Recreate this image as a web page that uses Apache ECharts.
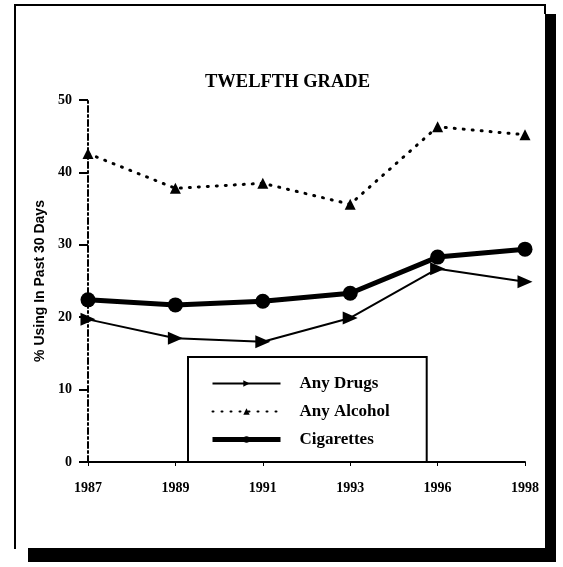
<!DOCTYPE html>
<html>
<head>
<meta charset="utf-8">
<script src="https://cdn.jsdelivr.net/npm/echarts@6/dist/echarts.min.js"></script>
<style>
  html, body { margin: 0; padding: 0; background: #fff; }
  #chart { width: 563px; height: 567px; }
</style>
</head>
<body>
<div id="chart"></div>
<script>
// values (% using in past 30 days, 12th grade)
var years = ['1987', '1989', '1991', '1993', '1996', '1998']
var anyDrugs = [19.7, 17.1, 16.6, 19.9, 26.7, 24.9]
var anyAlcohol = [42.6, 37.8, 38.5, 35.6, 46.3, 45.2]
var cigarettes = [22.4, 21.7, 22.2, 23.3, 28.3, 29.4]

var serif = '"Liberation Serif", "DejaVu Serif", serif'

var chart = echarts.init(document.getElementById('chart'))
chart.setOption({
  backgroundColor: '#fff',
  animation: false,
  title: {
    text: 'TWELFTH GRADE',
    left: 200,
    top: 68,
    textStyle: { fontFamily: serif, fontWeight: 'bold', fontSize: 18.5, color: '#000' }
  },
  legend: {
    orient: 'vertical',
    left: 188,
    top: 357,
    padding: [18, 37, 14, 22],
    borderColor: '#000',
    borderWidth: 2,
    backgroundColor: '#fff',
    itemWidth: 68,
    itemHeight: 8,
    itemGap: 11,
    textStyle: {
      fontFamily: serif,
      fontWeight: 'bold',
      fontSize: 17,
      color: '#000',
      lineHeight: 14,
      padding: [0, 0, 0, 14]
    },
    data: [
      { name: 'Any Drugs' },
      { name: 'Any Alcohol' },
      { name: 'Cigarettes', lineStyle: { width: 5 } }
    ]
  },
  grid: { left: 88, right: 38, top: 100, bottom: 105 },
  xAxis: {
    type: 'category',
    data: years,
    boundaryGap: false,
    axisLine: { lineStyle: { color: '#000', width: 2 } },
    axisTick: { length: 4, lineStyle: { color: '#000' } },
    axisLabel: { margin: 19, fontFamily: serif, fontWeight: 'bold', fontSize: 14, color: '#000' }
  },
  yAxis: {
    type: 'value',
    min: 0,
    max: 50,
    interval: 10,
    name: '% Using In Past 30 Days',
    nameLocation: 'middle',
    nameGap: 40,
    nameTextStyle: {
      fontFamily: '"Liberation Sans Narrow", "Liberation Sans", sans-serif',
      fontWeight: 'bold',
      fontSize: 14,
      color: '#000'
    },
    axisLine: { show: true, lineStyle: { color: '#000', width: 2, type: [6, 3, 2, 3] } },
    axisTick: { show: true, length: 9, lineStyle: { color: '#000', width: 2 } },
    axisLabel: { margin: 16, fontFamily: serif, fontWeight: 'bold', fontSize: 14, color: '#000' },
    splitLine: { show: false }
  },
  series: [
    {
      name: 'Any Drugs',
      type: 'line',
      data: anyDrugs,
      symbol: 'triangle',
      symbolSize: [13, 15],
      symbolRotate: -90,
      itemStyle: { color: '#000' },
      lineStyle: { color: '#000', width: 2 },
      z: 3
    },
    {
      name: 'Any Alcohol',
      type: 'line',
      data: anyAlcohol,
      symbol: 'triangle',
      symbolSize: 11,
      itemStyle: { color: '#000' },
      lineStyle: { color: '#000', width: 3, type: [1, 8], cap: 'round' },
      z: 3
    },
    {
      name: 'Cigarettes',
      type: 'line',
      data: cigarettes,
      symbol: 'circle',
      symbolSize: 15,
      itemStyle: { color: '#000' },
      lineStyle: { color: '#000', width: 5 },
      z: 4
    }
  ],
  graphic: [
    // page frame with its dark shadow edges
    { type: 'polyline', shape: { points: [[15, 549], [15, 5], [545, 5], [545, 14]] }, style: { stroke: '#000', lineWidth: 2, fill: null } },
    { type: 'rect', shape: { x: 545, y: 14, width: 11, height: 548 }, style: { fill: '#000' } },
    { type: 'rect', shape: { x: 28, y: 548, width: 528, height: 14 }, style: { fill: '#000' } }
  ]
})
</script>
</body>
</html>
